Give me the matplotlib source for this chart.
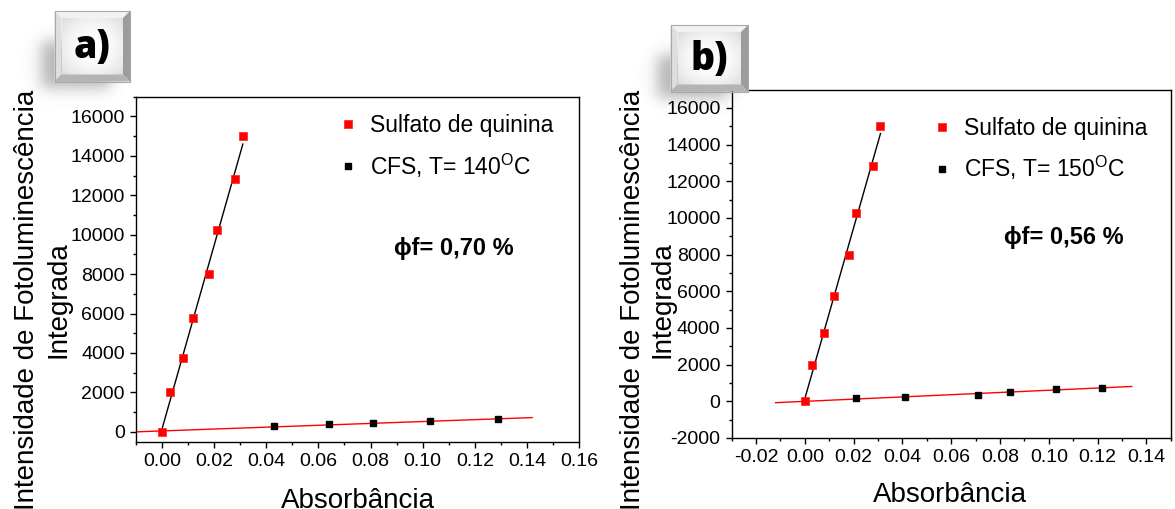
import numpy as np
import matplotlib
matplotlib.use('Agg')
import matplotlib.pyplot as plt
from matplotlib.patches import Polygon, Rectangle
from matplotlib.ticker import MultipleLocator, FormatStrFormatter

plt.rcParams['font.family'] = ['Liberation Sans', 'DejaVu Sans']
plt.rcParams['mathtext.fontset'] = 'custom'
plt.rcParams['mathtext.rm'] = 'Liberation Sans'
plt.rcParams['axes.unicode_minus'] = False

# dados
abs_qs = [0.000, 0.003, 0.008, 0.012, 0.018, 0.021, 0.028, 0.031]
int_qs = [0, 2000, 3750, 5750, 8000, 10250, 12850, 15000]

abs_140 = [0.043, 0.064, 0.081, 0.103, 0.129]
int_140 = [290, 390, 440, 530, 630]

abs_150 = [0.021, 0.041, 0.071, 0.084, 0.103, 0.122]
int_150 = [160, 230, 365, 510, 650, 745]

# faixas das retas de ajuste
range_qs = [0.0, 0.031]
range_140 = [-0.01, 0.142]
range_150 = [-0.012, 0.134]

lab_qs = 'Sulfato de quinina'
lab_140 = r'CFS, T= 140$^{\mathregular{O}}$C'
lab_150 = r'CFS, T= 150$^{\mathregular{O}}$C'
phi_140 = '\u03d5f= 0,70 %'
phi_150 = '\u03d5f= 0,56 %'

W, H = 1175, 509
fig = plt.figure(figsize=(W / 100, H / 100), dpi=100)


def px_rect(l, t, r, b):
    return [l / W, 1 - b / H, (r - l) / W, (b - t) / H]


def painel(rect, xc, yc, rng, lab, phi, xlim, ylim, yticks, leg_pos, phi_pos, ylab_pos, xlab_pos, ls):
    ax = fig.add_axes(rect)
    # ajuste linear
    p = np.polyfit(abs_qs, int_qs, 1)
    xx = np.array(range_qs)
    ax.plot(xx, np.polyval(p, xx), color='black', lw=1.0, zorder=2)
    p2 = np.polyfit([0.0] + xc, [0] + yc, 1)
    xx2 = np.array(rng)
    ax.plot(xx2, np.polyval(p2, xx2), color='#ff0000', lw=1.0, zorder=2)
    ax.plot(abs_qs, int_qs, 's', color='#ff0000', ms=5.6, mec='#ff2020', mew=0.5,
            label=lab_qs, zorder=3)
    ax.plot(xc, yc, 's', color='black', ms=5.0, label=lab, zorder=3)
    ax.set_xlim(*xlim)
    ax.set_ylim(*ylim)
    ax.xaxis.set_major_locator(MultipleLocator(0.02))
    ax.xaxis.set_minor_locator(MultipleLocator(0.01))
    ax.xaxis.set_major_formatter(FormatStrFormatter('%.2f'))
    ax.set_yticks(yticks)
    ax.yaxis.set_minor_locator(MultipleLocator(1000))
    ax.tick_params(which='both', direction='out', top=False, right=False, labelsize=14, width=1.0)
    ax.tick_params(which='major', length=4, pad=4)
    ax.tick_params(which='minor', length=2.3)
    for s in ax.spines.values():
        s.set_linewidth(1.0)
    ax.legend(loc='upper left', bbox_to_anchor=leg_pos, frameon=False, fontsize=16.5,
              handlelength=0.6, handletextpad=0.65, labelspacing=0.63,
              borderpad=0, borderaxespad=0)
    ax.text(phi_pos[0], phi_pos[1], phi, transform=ax.transAxes, ha='center', va='center',
            fontsize=17, fontweight='bold')
    ax.set_ylabel('Intensidade de Fotoluminesc\u00eancia\nIntegrada', fontsize=20,
                  ha='center', va='center', multialignment='center', linespacing=ls)
    ax.yaxis.set_label_coords(*ylab_pos)
    ax.set_xlabel('Absorb\u00e2ncia', fontsize=20, va='baseline')
    ax.xaxis.set_label_coords(*xlab_pos)
    return ax


painel(px_rect(136, 96.7, 579, 441.7), abs_140, int_140, range_140, lab_140, phi_140,
       (-0.01, 0.16), (-500, 17000), np.arange(0, 16001, 2000),
       (0.463, 0.950), (0.7167, 0.561), (-0.211, 0.411), (0.501, -0.192), 1.25)
painel(px_rect(731.7, 89.5, 1170.7, 438), abs_150, int_150, range_150, lab_150, phi_150,
       (-0.03, 0.15), (-2000, 17000), np.arange(-2000, 16001, 2000),
       (0.463, 0.922), (0.757, 0.574), (-0.1907, 0.396), (0.497, -0.1837), 1.15)

# etiquetas a) e b) em forma de botao
ov = fig.add_axes([0, 0, 1, 1], zorder=10)
ov.set_xlim(0, W)
ov.set_ylim(H, 0)
ov.axis('off')
ov.patch.set_alpha(0)


def botao(x0, y0, x1, y1, txt):
    # sombra
    sx0, sy0, sx1, sy1 = x0 - 14, y0 + 30, x1 - 20, y1 + 6
    gx = np.linspace(x0 - 50, x1, 160)
    gy = np.linspace(y0, y1 + 30, 120)
    X, Y = np.meshgrid(gx, gy)
    w = 9.0
    a = 0.25 * (np.tanh((X - sx0) / w) - np.tanh((X - sx1) / w)) * \
        0.5 * (np.tanh((Y - sy0) / w) - np.tanh((Y - sy1) / w))
    img = np.zeros(X.shape + (4,))
    img[..., :3] = 0.35
    img[..., 3] = np.clip(a * 0.9, 0, 1)
    ov.imshow(img, extent=(gx[0], gx[-1], gy[-1], gy[0]), interpolation='bilinear',
              zorder=1, aspect='auto')
    b = 7
    # face com leve degradê
    fx = np.linspace(-1, 1, 60)
    FX, FY = np.meshgrid(fx, fx)
    face = 1.0 - 0.07 * (FX ** 2 + FY ** 2)
    ov.imshow(face, cmap='gray', vmin=0, vmax=1, extent=(x0 + b, x1 - b, y1 - b, y0 + b),
              interpolation='bilinear', zorder=2, aspect='auto')
    ov.add_patch(Polygon([(x0, y0), (x1, y0), (x1 - b, y0 + b), (x0 + b, y0 + b)],
                         closed=True, fc='#f2f2f2', ec='none', zorder=3))
    ov.add_patch(Polygon([(x0, y0), (x0 + b, y0 + b), (x0 + b, y1 - b), (x0, y1)],
                         closed=True, fc='#dedede', ec='none', zorder=3))
    ov.add_patch(Polygon([(x1, y0), (x1, y1), (x1 - b, y1 - b), (x1 - b, y0 + b)],
                         closed=True, fc='#9c9c9c', ec='none', zorder=3))
    ov.add_patch(Polygon([(x0, y1), (x0 + b, y1 - b), (x1 - b, y1 - b), (x1, y1)],
                         closed=True, fc='#b4b4b4', ec='none', zorder=3))
    ov.add_patch(Rectangle((x0, y0), x1 - x0, y1 - y0, fc='none', ec='#a8a8a8', lw=0.8, zorder=4))
    ov.text((x0 + x1) / 2, (y0 + y1) / 2 + 1, txt, ha='center', va='center', fontsize=27,
            fontweight='black', family=['Open Sans', 'DejaVu Sans'], zorder=5)


botao(54.5, 11, 130, 81.5, 'a)')
botao(670.5, 25, 748, 91.5, 'b)')

fig.savefig('out.png', dpi=100)
